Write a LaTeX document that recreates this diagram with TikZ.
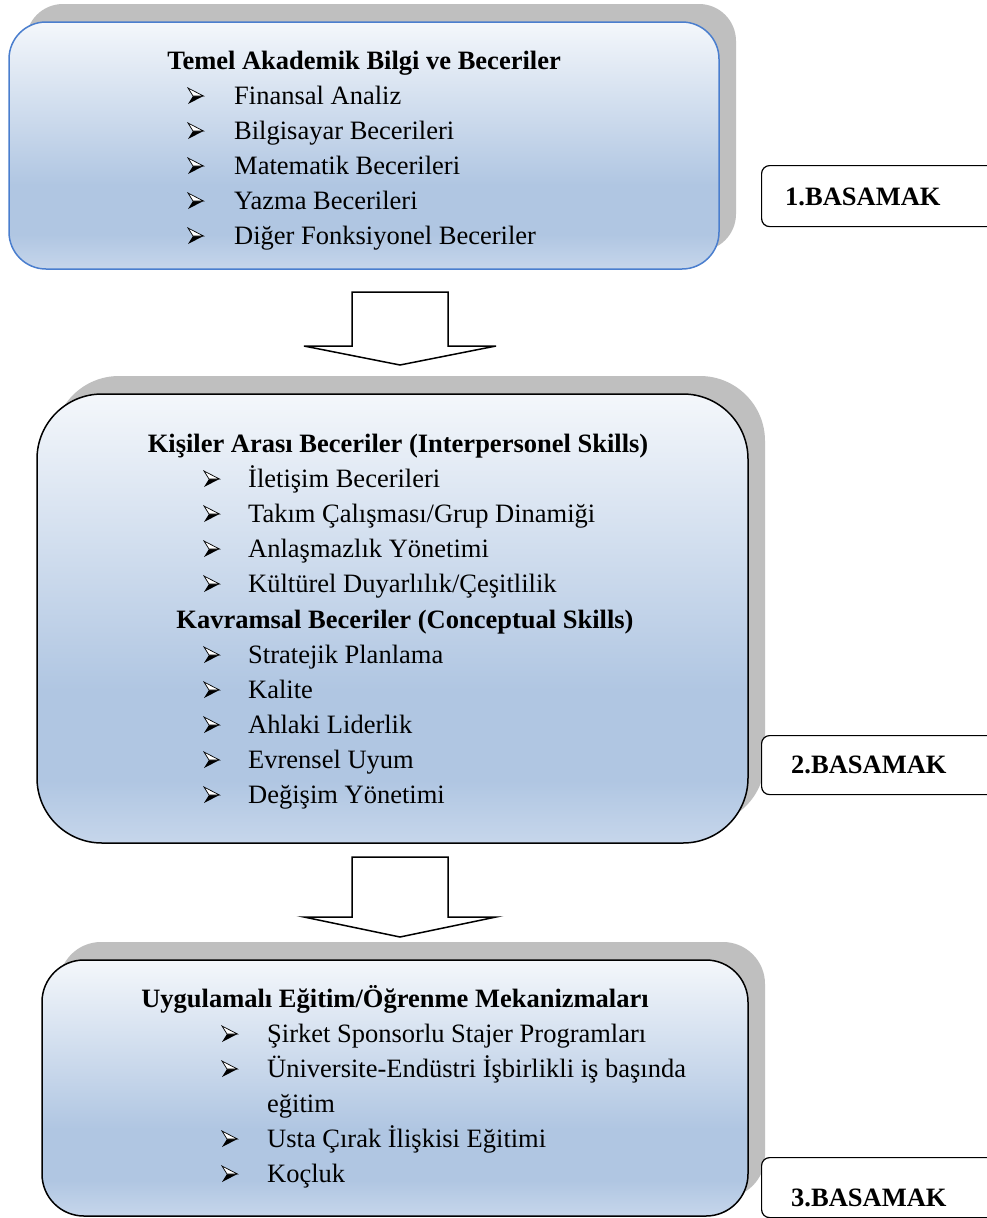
\documentclass[tikz,border=0pt]{standalone}
\usepackage{fontspec}
\setmainfont{Liberation Serif}
\usetikzlibrary{shadows}

\definecolor{shadowgray}{RGB}{191,191,191}
\definecolor{edgeblue}{RGB}{74,126,206}
\definecolor{filltop}{RGB}{244,247,251}
\definecolor{fillmid}{RGB}{176,198,226}
\definecolor{fillbot}{RGB}{198,214,235}

% light-to-blue vertical fill of the skill panels (bottom -> top)
\pgfdeclareverticalshading{skillfill}{100bp}{%
  color(0bp)=(fillbot); color(25bp)=(fillbot); color(32bp)=(fillmid);
  color(42bp)=(fillmid); color(75bp)=(filltop); color(100bp)=(filltop)}

\tikzset{
  panel/.style={draw=black, line width=1.5pt, shading=skillfill,
    drop shadow={shadow xshift=17pt, shadow yshift=18pt, fill=shadowgray, opacity=1},
    inner sep=0pt},
  heading/.style={font=\bfseries\fontsize{26.5}{32}\selectfont, anchor=base, inner sep=0pt},
  item/.style={font=\fontsize{26.5}{32}\selectfont, anchor=base west, inner sep=0pt},
  levelbox/.style={draw=black, line width=1.2pt, rounded corners=8pt, fill=white,
    anchor=north west, minimum width=260pt, inner sep=0pt},
  levellabel/.style={font=\bfseries\fontsize{26.5}{32}\selectfont, anchor=base west, inner sep=0pt},
  blockarrow/.style={draw=black, line width=1.5pt, fill=white, line join=miter},
  bul/.pic={
    \fill[black] (5,-8) -- (15.5,-8) -- (0,0) -- cycle;
    \draw[black, line width=0.7pt, fill=white, line join=miter] (0,-16) -- (15.5,-8) -- (5,-8) -- cycle;
  }
}

\begin{document}
\begin{tikzpicture}[x=1pt, y=-1pt]
  \useasboundingbox (0,0) rectangle (987,1218);
  \clip (0,0) rectangle (987,1218);
  \fill[white] (0,0) rectangle (987,1218);

  % ---------- level 1 ----------
  \node[panel, draw=edgeblue, rounded corners=37pt, minimum width=710pt, minimum height=247pt]
    (b1) at (364,145.5) {};
  \node[heading] (t1) at (364,69) {Temel Akademik Bilgi ve Beceriler};
  \pic at (188,104) {bul}; \node[item] (a1) at (234,104) {Finansal Analiz};
  \pic at (188,139) {bul}; \node[item] (a2) at (234,139) {Bilgisayar Becerileri};
  \pic at (188,174) {bul}; \node[item] (a3) at (234,174) {Matematik Becerileri};
  \pic at (188,209) {bul}; \node[item] (a4) at (234,209) {Yazma Becerileri};
  \pic at (188,244) {bul}; \node[item] (a5) at (234,244) {Diğer Fonksiyonel Beceriler};
  \node[levelbox, minimum height=61pt] (l1) at (761,165) {};
  \node[levellabel] (l1t) at (785,205) {1.BASAMAK};

  % arrow from level 1 to level 2
  \draw[blockarrow] (352,292) -- (448,292) -- (448,346) -- (496,346) -- (400,365)
    -- (304,346) -- (352,346) -- cycle;

  % ---------- level 2 ----------
  \node[panel, rounded corners=65pt, minimum width=711pt, minimum height=449pt]
    (b2) at (392.5,618.5) {};
  \node[heading] (t2) at (398,452) {Kişiler Arası Beceriler (Interpersonel Skills)};
  \pic at (204,487) {bul}; \node[item] (p1) at (248,487) {İletişim Becerileri};
  \pic at (204,522) {bul}; \node[item] (p2) at (248,522) {Takım Çalışması/Grup Dinamiği};
  \pic at (204,557) {bul}; \node[item] (p3) at (248,557) {Anlaşmazlık Yönetimi};
  \pic at (204,592) {bul}; \node[item] (p4) at (248,592) {Kültürel Duyarlılık/Çeşitlilik};
  \node[heading] (t3) at (405,628) {Kavramsal Beceriler (Conceptual Skills)};
  \pic at (204,663) {bul}; \node[item] (c1) at (248,663) {Stratejik Planlama};
  \pic at (204,698) {bul}; \node[item] (c2) at (248,698) {Kalite};
  \pic at (204,733) {bul}; \node[item] (c3) at (248,733) {Ahlaki Liderlik};
  \pic at (204,768) {bul}; \node[item] (c4) at (248,768) {Evrensel Uyum};
  \pic at (204,803) {bul}; \node[item] (c5) at (248,803) {Değişim Yönetimi};
  \node[levelbox, minimum height=59pt] (l2) at (761,735) {};
  \node[levellabel] (l2t) at (791,773) {2.BASAMAK};

  % arrow from level 2 to level 3
  \draw[blockarrow] (352,857) -- (448,857) -- (448,917) -- (496,917) -- (400,937)
    -- (304,917) -- (352,917) -- cycle;

  % ---------- level 3 ----------
  \node[panel, rounded corners=42pt, minimum width=706pt, minimum height=256pt]
    (b3) at (395,1088) {};
  \node[heading] (t4) at (395,1007) {Uygulamalı Eğitim/Öğrenme Mekanizmaları};
  \pic at (222,1042) {bul}; \node[item] (u1) at (267,1042) {Şirket Sponsorlu Stajer Programları};
  \pic at (222,1077) {bul}; \node[item] (u2) at (267,1077) {Üniversite-Endüstri İşbirlikli iş başında};
  \node[item] (u2b) at (267,1112) {eğitim};
  \pic at (222,1147) {bul}; \node[item] (u3) at (267,1147) {Usta Çırak İlişkisi Eğitimi};
  \pic at (222,1182) {bul}; \node[item] (u4) at (267,1182) {Koçluk};
  \node[levelbox, minimum height=60pt] (l3) at (761,1157) {};
  \node[levellabel] (l3t) at (791,1206) {3.BASAMAK};
\end{tikzpicture}
\end{document}
